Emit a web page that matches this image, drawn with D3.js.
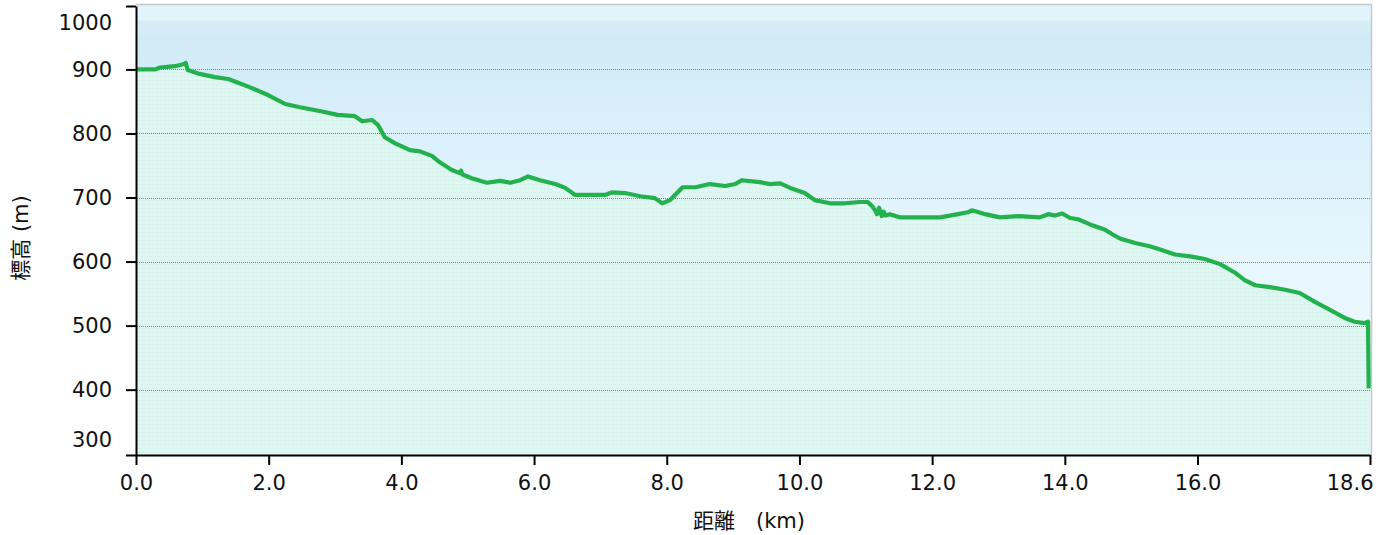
<!DOCTYPE html>
<html>
<head>
<meta charset="utf-8">
<script src="https://cdn.jsdelivr.net/npm/d3@7"></script>
<style>
  body { margin: 0; background: #fff; }
  text { font-family: "DejaVu Sans", Verdana, "Noto Sans CJK JP", sans-serif; fill: #111; }
</style>
</head>
<body>
<svg id="chart" width="1388" height="535"></svg>
<script>
// 距離 (km)
let dist = [0, 0.29, 0.36, 0.59, 0.71, 0.75, 0.78, 0.96, 1.19, 1.39, 1.52, 1.72, 1.99, 2.25, 2.47, 2.77, 3.04, 3.30, 3.41, 3.56, 3.65, 3.75, 3.90, 4.13, 4.28, 4.46, 4.58, 4.76, 4.88, 4.90, 4.92, 5.06, 5.29, 5.49, 5.64, 5.79, 5.91, 6.09, 6.32, 6.47, 6.62, 6.84, 7.07, 7.17, 7.37, 7.60, 7.82, 7.93, 8.05, 8.24, 8.43, 8.65, 8.88, 9.03, 9.13, 9.40, 9.56, 9.71, 9.86, 10.08, 10.23, 10.46, 10.69, 10.91, 11.03, 11.10, 11.14, 11.17, 11.20, 11.24, 11.27, 11.30, 11.36, 11.51, 11.82, 12.12, 12.39, 12.54, 12.60, 12.80, 13.02, 13.32, 13.62, 13.75, 13.85, 13.96, 14.08, 14.20, 14.38, 14.60, 14.71, 14.83, 15.06, 15.28, 15.46, 15.66, 15.89, 16.11, 16.34, 16.56, 16.71, 16.87, 17.09, 17.32, 17.54, 17.77, 17.99, 18.22, 18.37, 18.52, 18.57, 18.58];
// 標高 (m)
let elev = [900, 900, 903, 905, 908, 910, 899, 893, 888, 885, 880, 872, 860, 846, 841, 835, 829, 827, 819, 821, 813, 794, 785, 774, 772, 765, 755, 743, 738, 742, 736, 730, 723, 726, 723, 727, 733, 727, 721, 715, 704, 704, 704, 708, 707, 702, 699, 691, 696, 716, 716, 721, 718, 721, 727, 724, 721, 722, 715, 707, 696, 691, 691, 693, 693, 686, 680, 674, 684, 671, 678, 672, 674, 669, 669, 669, 674, 677, 680, 674, 669, 671, 669, 674, 672, 675, 668, 666, 658, 650, 643, 636, 629, 624, 618, 611, 608, 604, 596, 583, 571, 563, 560, 556, 551, 537, 525, 512, 506, 504, 506, 402];
let yTicks = [298, 400, 500, 600, 700, 800, 900, 999];
let yTickLabels = ["300", "400", "500", "600", "700", "800", "900", "1000"];
let xTicks = [0, 2, 4, 6, 8, 10, 12, 14, 16, 18.6];
let xTickLabels = ["0.0", "2.0", "4.0", "6.0", "8.0", "10.0", "12.0", "14.0", "16.0", "18.6"];
let gridValues = [400, 500, 600, 700, 800, 900];

let svg = d3.select('#chart');
let data = dist.map(function(d, i) { return [d, elev[i]]; });

let x = d3.scaleLinear().domain([0, 18.6]).range([136, 1370]);
let y = d3.scaleLinear().domain([298, 999]).range([455, 6]);

let defs = svg.append('defs');

// fondo azul del cielo
let sky = defs.append('linearGradient').attr('id', 'sky').attr('x1', 0).attr('y1', 0).attr('x2', 0).attr('y2', 1);
sky.append('stop').attr('offset', '0').attr('stop-color', '#e2f4fb');
sky.append('stop').attr('offset', '0.033').attr('stop-color', '#e2f4fb');
sky.append('stop').attr('offset', '0.036').attr('stop-color', '#d7edf6');
sky.append('stop').attr('offset', '0.09').attr('stop-color', '#d0ebf7');
sky.append('stop').attr('offset', '0.3').attr('stop-color', '#dbf1fb');
sky.append('stop').attr('offset', '0.6').attr('stop-color', '#e8f6fd');
sky.append('stop').attr('offset', '1').attr('stop-color', '#f0fafd');

// relleno verde con textura
let pat = defs.append('pattern').attr('id', 'mint')
    .attr('patternUnits', 'userSpaceOnUse').attr('width', 4).attr('height', 4);
pat.append('rect').attr('width', 4).attr('height', 4).attr('fill', '#e0f8f3');
pat.append('rect').attr('width', 4).attr('height', 1).attr('fill', '#d8f3ec');
pat.append('rect').attr('width', 1).attr('height', 4).attr('fill', '#dbf4ef');

svg.append('rect')
    .attr('x', 136).attr('y', 5)
    .attr('width', 1235).attr('height', 450)
    .attr('fill', 'url(#sky)');

let area = d3.area()
    .x(function(d) { return x(d[0]); })
    .y0(455)
    .y1(function(d) { return y(d[1]); });

svg.append('path')
    .datum(data.concat([[18.6, 402]]))
    .attr('fill', 'url(#mint)')
    .attr('d', area);

// borde superior y derecho
svg.append('path')
    .attr('d', 'M136,4.5H1371.5V455')
    .attr('fill', 'none')
    .attr('stroke', '#c4c8ca')
    .attr('stroke-width', 1.5);

// lineas de la cuadricula
svg.append('g')
    .selectAll('line')
    .data(gridValues)
    .join('line')
    .attr('x1', 137).attr('x2', 1370)
    .attr('y1', function(d) { return Math.round(y(d)) + 0.5; })
    .attr('y2', function(d) { return Math.round(y(d)) + 0.5; })
    .attr('stroke', '#808080')
    .attr('stroke-width', 1)
    .attr('stroke-dasharray', '1,1');

// perfil
let line = d3.line()
    .x(function(d) { return x(d[0]); })
    .y(function(d) { return y(d[1]); });

svg.append('path')
    .datum(data)
    .attr('fill', 'none')
    .attr('stroke', '#22b14c')
    .attr('stroke-width', 4.2)
    .attr('stroke-linejoin', 'round')
    .attr('d', line);

// ejes
let yAxis = d3.axisLeft(y)
    .tickValues(yTicks)
    .tickSize(10)
    .tickPadding(14)
    .tickSizeOuter(0)
    .tickFormat(function(d, i) { return yTickLabels[i]; });

let gy = svg.append('g').attr('transform', 'translate(136,0)').call(yAxis);
gy.selectAll('.tick text').filter(function(d) { return d === 999; }).attr('dy', '1.1em');
gy.selectAll('.tick text').filter(function(d) { return d === 298; }).attr('dy', '-0.42em');

let xAxis = d3.axisBottom(x)
    .tickValues(xTicks)
    .tickSize(10)
    .tickPadding(10)
    .tickSizeOuter(0)
    .tickFormat(function(d, i) { return xTickLabels[i]; });

let gx = svg.append('g').attr('transform', 'translate(0,455)').call(xAxis);
gx.selectAll('.tick text').filter(function(d) { return d === 18.6; })
    .attr('text-anchor', 'end').attr('dx', 3);

svg.selectAll('.domain').attr('stroke', '#000').attr('stroke-width', 2);
svg.selectAll('.tick line').attr('stroke', '#000').attr('stroke-width', 2);
svg.selectAll('.tick text')
    .attr('font-size', 21)
    .style('font-family', '"DejaVu Sans", Verdana, sans-serif')
    .attr('fill', '#111');

// titulos
svg.append('text')
    .attr('x', 749).attr('y', 528)
    .attr('text-anchor', 'middle')
    .attr('font-size', 21)
    .text('距離　(km)');

svg.append('text')
    .attr('transform', 'translate(28,238) rotate(-90)')
    .attr('text-anchor', 'middle')
    .attr('font-size', 21)
    .text('標高 (m)');
</script>
</body>
</html>
